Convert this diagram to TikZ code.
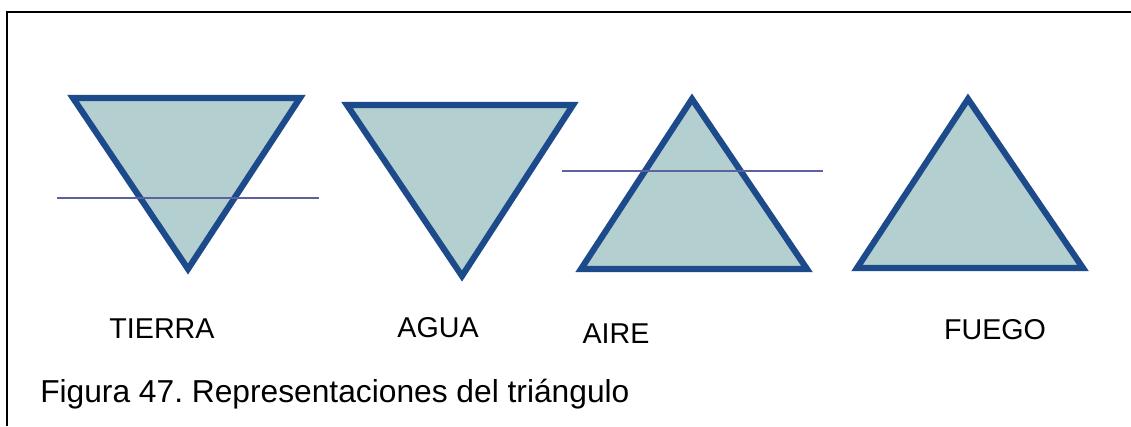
\documentclass[tikz,border=0pt]{standalone}
\usepackage{fontspec}
\setmainfont{Liberation Sans}
\frenchspacing
\definecolor{trifill}{RGB}{180,207,208}
\definecolor{tristroke}{RGB}{28,74,138}
\definecolor{barline}{RGB}{92,98,160}
\tikzset{
  tri/.style={fill=trifill, draw=tristroke, line width=4.6pt, line join=miter},
  bar/.style={draw=barline, line width=1.6pt},
  lab/.style={anchor=base, inner sep=0pt, font=\fontsize{21.5pt}{25pt}\selectfont},
  captext/.style={anchor=base west, inner sep=0pt, font=\fontsize{23.8pt}{28pt}\selectfont},
  frameline/.style={draw=black, line width=1.8pt}
}
\begin{document}
\begin{tikzpicture}[x=0.75pt, y=-0.75pt]
\useasboundingbox (0,0) rectangle (1131,426);
% frame
\draw[frameline] (7,426) -- (7,12) -- (1131,12);
% TIERRA
\draw[tri] (73,98) -- (300,98) -- (188,269) -- cycle;
\draw[bar] (57,198) -- (319,198);
% AGUA
\draw[tri] (347,105) -- (573,105) -- (462,276) -- cycle;
% AIRE
\draw[tri] (692,99) -- (807,269) -- (581,269) -- cycle;
\draw[bar] (562,171) -- (823,171);
% FUEGO
\draw[tri] (968,99) -- (1083,268) -- (857,268) -- cycle;
% labels
\node[lab] (tierra) at (162,338) {TIERRA};
\node[lab] (agua) at (438,337) {AGUA};
\node[lab] (aire) at (616,343) {AIRE};
\node[lab] (fuego) at (995,339) {FUEGO};
\node[captext] (caption) at (40,402) {Figura 47. Representaciones del triángulo};
\end{tikzpicture}
\end{document}
